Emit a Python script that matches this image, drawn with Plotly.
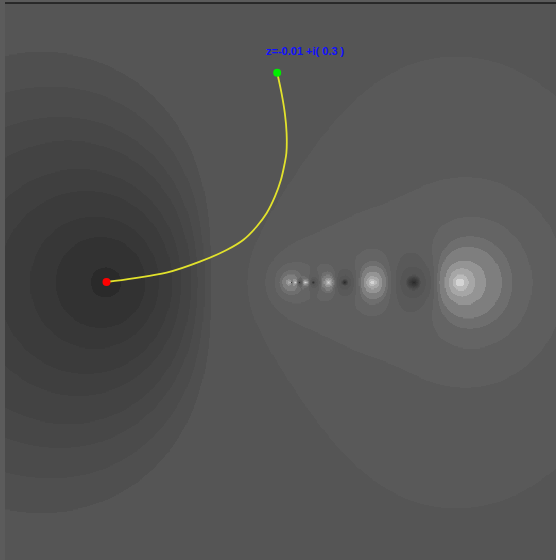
import numpy as np
import plotly.graph_objects as go

# ---- view window of the complex plane ----
re_range = [-0.4, 0.3903]
im_range = [-0.3989, 0.4003]

zero_main = -0.255                                   # red marker / dark centre
pole_re = [0.2515, 0.1263, 0.0631, 0.0306, 0.0153, 0.0077]   # bright spots
zero_re = [0.1855, 0.0861, 0.0412, 0.0220, 0.0096]           # dark spots
zero_far = 1.3                                       # off-screen zero (tilts the field)

# ---- yellow path (real, imaginary parts) ----
path_re = [-0.2544, -0.2162, -0.1683, -0.1205, -0.0822, -0.0584, -0.0392,
           -0.0248, -0.0129, -0.0043, 0.0007, 0.0036, 0.0039, 0.0014,
           -0.0033, -0.0096]
path_im = [0.0, 0.0053, 0.0133, 0.0291, 0.0459, 0.0603, 0.0793,
           0.0986, 0.1224, 0.1463, 0.1679, 0.1851, 0.2138, 0.242,
           0.2707, 0.3003]
label_text = "z=-0.01 +i( 0.3 )"

# ---- points where the shading steps (band edges) and band greys ----
edge_re = [-0.254] * 9 + [0.271, 0.267] + [0.2525] * 7
edge_im = [0.0215, 0.0646, 0.0933, 0.1277, 0.1564, 0.1937, 0.2253, 0.2654, 0.3113,
           0.323, 0.151,
           0.0933, 0.0646, 0.0502, 0.0316, 0.0200, 0.0115, 0.0057]
band_gray = [42, 50, 55, 59, 63, 67, 71, 75, 79, 85, 89, 94,
             100, 110, 126, 148, 166, 186, 212]


def field(z):
    with np.errstate(divide="ignore", invalid="ignore"):
        v = np.log(np.abs(z - zero_main)) + np.log(np.abs(z - zero_far))
        for q in zero_re:
            v = v + np.log(np.abs(z - q))
        for p in pole_re:
            v = v - np.log(np.abs(z - p))
    return np.nan_to_num(v, nan=0.0, posinf=50.0, neginf=-50.0)


N = 520
xs = np.linspace(re_range[0], re_range[1], N)
ys = np.linspace(im_range[0], im_range[1], N)
X, Y = np.meshgrid(xs, ys)
V = field(X + 1j * Y)

thr = np.sort(field(np.array(edge_re) + 1j * np.array(edge_im)))
idx = np.searchsorted(thr, V)
G = np.array(band_gray)[idx]

fig = go.Figure()
fig.add_trace(go.Heatmap(
    x=xs, y=ys, z=G, zmin=0, zmax=255, zsmooth="best",
    colorscale=[[0, "rgb(0,0,0)"], [1, "rgb(255,255,255)"]],
    showscale=False, hoverinfo="skip"))

fig.add_trace(go.Scatter(
    x=path_re, y=path_im, mode="lines", line=dict(color="#e2e22c", width=1.8, shape="spline"),
    hoverinfo="skip", showlegend=False))
fig.add_trace(go.Scatter(
    x=[path_re[0]], y=[path_im[0]], mode="markers",
    marker=dict(color="#ff0000", size=8), showlegend=False))
fig.add_trace(go.Scatter(
    x=[path_re[-1]], y=[path_im[-1]], mode="markers",
    marker=dict(color="#00ee00", size=8), showlegend=False))

fig.add_annotation(
    x=path_re[-1], y=path_im[-1], text="<b>" + label_text + "</b>",
    showarrow=False, xanchor="center", yanchor="bottom",
    xshift=28, yshift=14,
    font=dict(family="Liberation Sans, Arial", size=11, color="#1010ff"))

fig.add_shape(type="line", xref="paper", yref="paper", x0=0, x1=1, y0=1, y1=1,
              line=dict(color="#1a1a1a", width=1.5))

fig.update_xaxes(range=re_range, visible=False, showgrid=False, zeroline=False)
fig.update_yaxes(range=im_range, visible=False, showgrid=False, zeroline=False)
fig.update_layout(
    width=556, height=560,
    margin=dict(l=5, r=0, t=3, b=0),
    paper_bgcolor="#5b5b5b", plot_bgcolor="#555555",
    showlegend=False)

fig.write_html("out.html", config={"displayModeBar": False},
               post_script="document.body.style.margin='0';")
